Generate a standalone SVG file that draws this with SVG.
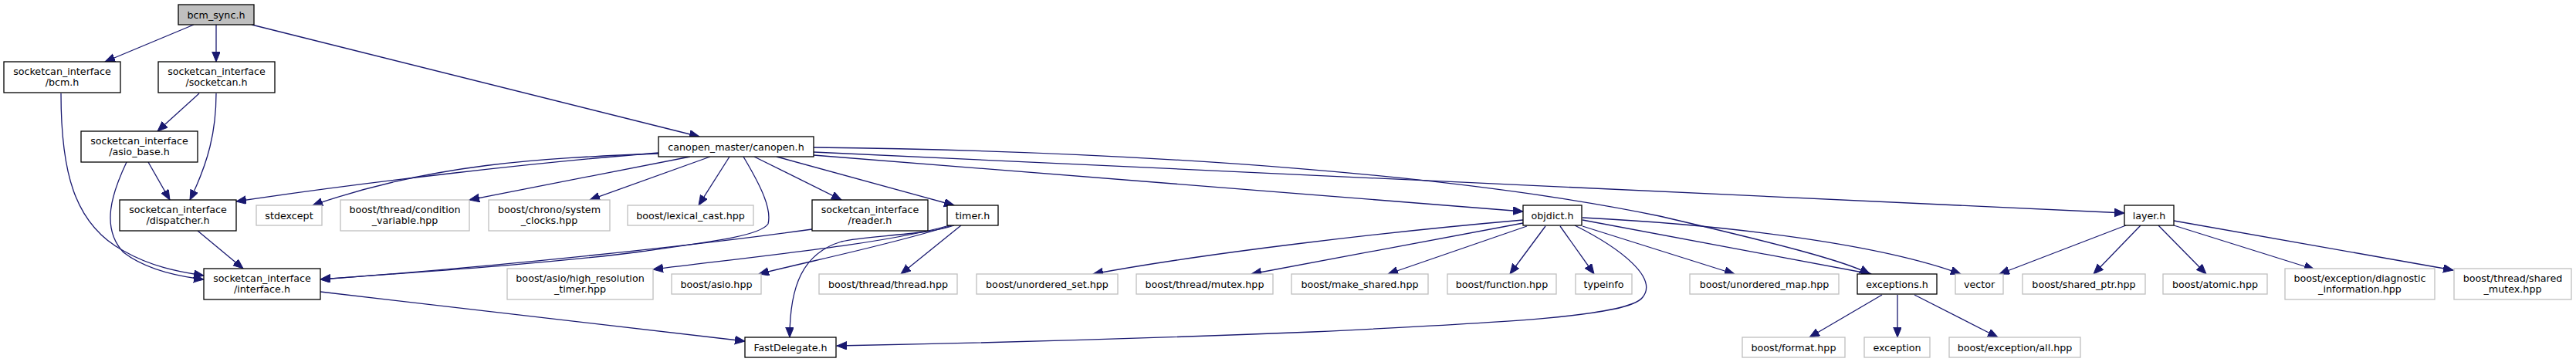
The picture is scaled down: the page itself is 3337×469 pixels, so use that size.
<svg xmlns="http://www.w3.org/2000/svg" width="3337" height="469" viewBox="0 0 3337 469">
<style>
.n rect{fill:#fff;stroke:#000;stroke-width:1.3}
.g rect{fill:#fff;stroke:#bfbfbf;stroke-width:1.3}
.root rect{fill:#bfbfbf;stroke:#000;stroke-width:1.3}
text{font-family:"DejaVu Sans","Liberation Sans",sans-serif;font-size:12.7px;fill:#000;text-anchor:middle}
#edges path{fill:none;stroke:#191970;stroke-width:1.3;marker-end:url(#ah)}
</style>
<defs>
<marker id="ah" markerUnits="userSpaceOnUse" markerWidth="14" markerHeight="12" refX="13" refY="5.3" orient="auto">
<path d="M0,0 L13,5.3 L0,10.6 z" fill="#191970" stroke="#191970" stroke-width="1"/>
</marker>
</defs>
<rect x="0" y="0" width="3337" height="469" fill="#fff"/>
<g id="edges">
<path d="M251,32 L136,80"/>
<path d="M280,32 L280,80"/>
<path d="M326,32 L906,177"/>
<path d="M79,121 C79,220 95,290 160,325 C195,345 230,352 264,357"/>
<path d="M258,121 L204,170"/>
<path d="M280,121 C280,170 270,210 246,259"/>
<path d="M192,210 L220,259"/>
<path d="M164,210 C145,250 130,295 160,327 C190,350 230,358 264,362"/>
<path d="M256,299 L315,348"/>
<path d="M415,378 L965,442"/>
<path d="M853,198 C700,210 480,235 306,261"/>
<path d="M853,199 C700,205 560,212 405,266"/>
<path d="M894,203 L608,259"/>
<path d="M920,203 L764,259"/>
<path d="M945,203 L905,266"/>
<path d="M963,203 C985,240 1000,270 995,290 C985,305 930,312 830,326 C700,343 500,355 415,362"/>
<path d="M1052,297 C900,318 650,345 415,362"/>
<path d="M977,203 L1090,259"/>
<path d="M1006,203 L1236,266"/>
<path d="M1245,292 L1167,355"/>
<path d="M1233,292 C1150,318 1050,338 983,355"/>
<path d="M1230,292 C1150,315 1000,330 846,349"/>
<path d="M1236,292 C1200,305 1120,305 1090,313 C1040,328 1023,370 1023,437"/>
<path d="M1054,201 L1973,274"/>
<path d="M1054,191 C1500,196 1900,228 2150,280 C2300,315 2390,338 2422,355"/>
<path d="M1054,197 L2752,276"/>
<path d="M1973,285 C1800,300 1560,328 1416,355"/>
<path d="M1973,289 L1621,355"/>
<path d="M1978,293 L1798,355"/>
<path d="M2002,293 L1956,355"/>
<path d="M2021,293 L2065,355"/>
<path d="M2040,292 C2100,322 2148,360 2128,385 C2110,410 1950,418 1700,430 C1450,440 1250,445 1084,448"/>
<path d="M2050,293 L2247,355"/>
<path d="M2050,285 L2424,355"/>
<path d="M2050,282 C2250,292 2440,318 2540,355"/>
<path d="M2438,382 L2344,437"/>
<path d="M2458,382 L2458,437"/>
<path d="M2480,382 L2588,437"/>
<path d="M2754,292 L2590,355"/>
<path d="M2773,292 L2712,355"/>
<path d="M2796,292 L2858,355"/>
<path d="M2816,292 L2998,349"/>
<path d="M2816,286 L3178,350"/>
</g>
<g id="bcm_sync" class="root"><rect x="231" y="6" width="98" height="26"/><text x="280" y="23.6">bcm_sync.h</text></g>
<g id="bcm" class="n"><rect x="5" y="80" width="151" height="40"/><text x="80.5" y="96.8">socketcan_interface</text><text x="80.5" y="111">/bcm.h</text></g>
<g id="socketcan" class="n"><rect x="205" y="80" width="151" height="40"/><text x="280.5" y="96.8">socketcan_interface</text><text x="280.5" y="111">/socketcan.h</text></g>
<g id="asio_base" class="n"><rect x="105" y="170" width="151" height="40"/><text x="180.5" y="186.8">socketcan_interface</text><text x="180.5" y="201">/asio_base.h</text></g>
<g id="dispatcher" class="n"><rect x="155" y="259" width="151" height="40"/><text x="230.5" y="275.8">socketcan_interface</text><text x="230.5" y="290">/dispatcher.h</text></g>
<g id="interface" class="n"><rect x="264" y="348" width="151" height="40"/><text x="339.5" y="364.8">socketcan_interface</text><text x="339.5" y="379">/interface.h</text></g>
<g id="canopen" class="n"><rect x="853" y="177" width="201" height="26"/><text x="953.5" y="194.6">canopen_master/canopen.h</text></g>
<g id="stdexcept" class="g"><rect x="332" y="266" width="85" height="26"/><text x="374.5" y="283.6">stdexcept</text></g>
<g id="condition_variable" class="g"><rect x="441" y="259" width="167" height="40"/><text x="524.5" y="275.8">boost/thread/condition</text><text x="524.5" y="290">_variable.hpp</text></g>
<g id="system_clocks" class="g"><rect x="633" y="259" width="157" height="40"/><text x="711.5" y="275.8">boost/chrono/system</text><text x="711.5" y="290">_clocks.hpp</text></g>
<g id="lexical_cast" class="g"><rect x="813" y="266" width="163" height="26"/><text x="894.5" y="283.6">boost/lexical_cast.hpp</text></g>
<g id="reader" class="n"><rect x="1052" y="259" width="150" height="40"/><text x="1127" y="275.8">socketcan_interface</text><text x="1127" y="290">/reader.h</text></g>
<g id="timer" class="n"><rect x="1227" y="266" width="66" height="26"/><text x="1260" y="283.6">timer.h</text></g>
<g id="high_resolution_timer" class="g"><rect x="657" y="348" width="189" height="40"/><text x="751.5" y="364.8">boost/asio/high_resolution</text><text x="751.5" y="379">_timer.hpp</text></g>
<g id="asio" class="g"><rect x="870" y="355" width="116" height="26"/><text x="928" y="372.6">boost/asio.hpp</text></g>
<g id="thread" class="g"><rect x="1061" y="355" width="179" height="26"/><text x="1150.5" y="372.6">boost/thread/thread.hpp</text></g>
<g id="fastdelegate" class="n"><rect x="965" y="437" width="118" height="26"/><text x="1024" y="454.6">FastDelegate.h</text></g>
<g id="objdict" class="n"><rect x="1973" y="266" width="76" height="26"/><text x="2011" y="283.6">objdict.h</text></g>
<g id="unordered_set" class="g"><rect x="1265" y="355" width="183" height="26"/><text x="1356.5" y="372.6">boost/unordered_set.hpp</text></g>
<g id="mutex" class="g"><rect x="1472" y="355" width="177" height="26"/><text x="1560.5" y="372.6">boost/thread/mutex.hpp</text></g>
<g id="make_shared" class="g"><rect x="1673" y="355" width="177" height="26"/><text x="1761.5" y="372.6">boost/make_shared.hpp</text></g>
<g id="function" class="g"><rect x="1875" y="355" width="141" height="26"/><text x="1945.5" y="372.6">boost/function.hpp</text></g>
<g id="typeinfo" class="g"><rect x="2041" y="355" width="73" height="26"/><text x="2077.5" y="372.6">typeinfo</text></g>
<g id="unordered_map" class="g"><rect x="2189" y="355" width="193" height="26"/><text x="2285.5" y="372.6">boost/unordered_map.hpp</text></g>
<g id="exceptions" class="n"><rect x="2406" y="355" width="103" height="26"/><text x="2457.5" y="372.6">exceptions.h</text></g>
<g id="format" class="g"><rect x="2257" y="437" width="133" height="26"/><text x="2323.5" y="454.6">boost/format.hpp</text></g>
<g id="exception" class="g"><rect x="2415" y="437" width="85" height="26"/><text x="2457.5" y="454.6">exception</text></g>
<g id="exception_all" class="g"><rect x="2525" y="437" width="170" height="26"/><text x="2610" y="454.6">boost/exception/all.hpp</text></g>
<g id="layer" class="n"><rect x="2752" y="266" width="64" height="26"/><text x="2784" y="283.6">layer.h</text></g>
<g id="vector" class="g"><rect x="2533" y="355" width="62" height="26"/><text x="2564" y="372.6">vector</text></g>
<g id="shared_ptr" class="g"><rect x="2620" y="355" width="159" height="26"/><text x="2699.5" y="372.6">boost/shared_ptr.hpp</text></g>
<g id="atomic" class="g"><rect x="2802" y="355" width="135" height="26"/><text x="2869.5" y="372.6">boost/atomic.hpp</text></g>
<g id="diagnostic_information" class="g"><rect x="2960" y="348" width="194" height="40"/><text x="3057" y="364.8">boost/exception/diagnostic</text><text x="3057" y="379">_information.hpp</text></g>
<g id="shared_mutex" class="g"><rect x="3179" y="348" width="152" height="40"/><text x="3255" y="364.8">boost/thread/shared</text><text x="3255" y="379">_mutex.hpp</text></g>
</svg>
